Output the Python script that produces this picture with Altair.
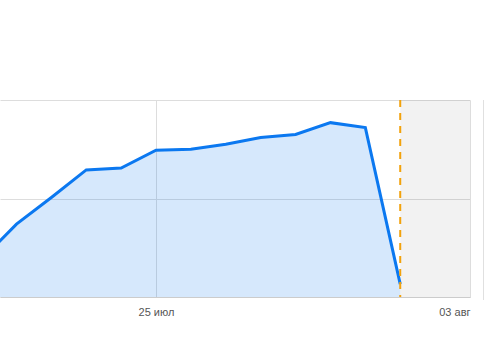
import altair as alt
import pandas as pd

dates = ["2024-07-20", "2024-07-21", "2024-07-22", "2024-07-23", "2024-07-24",
         "2024-07-25", "2024-07-26", "2024-07-27", "2024-07-28", "2024-07-29",
         "2024-07-30", "2024-07-31", "2024-08-01"]
values = [38, 74, 101, 129, 131, 149, 150, 155, 162, 165, 177, 172, 13]

tick_dates = [(2024, 7, 25), (2024, 8, 3)]
month_names = ["янв", "фев", "мар", "апр", "май", "июн", "июл", "авг", "сен", "окт", "ноя", "дек"]
forecast_start = "2024-08-01"
forecast_end = "2024-08-03"

df = pd.DataFrame({"date": dates, "value": values})
band = pd.DataFrame({"start": [forecast_start], "end": [forecast_end]})

W, H = 470, 197
months_js = "[" + ",".join("'" + m + "'" for m in month_names) + "]"

xscale = alt.Scale(
    type="utc",
    domain=[alt.DateTime(year=2024, month=7, date=20, hours=12, minutes=40, utc=True),
            alt.DateTime(year=2024, month=8, date=3, utc=True)],
)
xaxis = alt.Axis(
    title=None,
    values=[alt.DateTime(year=y, month=m, date=d, utc=True) for (y, m, d) in tick_dates],
    labelExpr="utcFormat(datum.value, '%d') + ' ' + " + months_js + "[utcmonth(datum.value)]",
    labelFlush=True,
    labelFont="Liberation Sans",
    labelFontSize=11,
    labelColor="#555555",
    labelPadding=9,
    ticks=False,
    domainColor="#cccccc",
    gridColor="#dddddd",
)
yscale = alt.Scale(domain=[0, 200])
yaxis = alt.Axis(title=None, values=[0, 100, 200], labels=False, ticks=False,
                 domain=False, gridColor="#dddddd")

base = alt.Chart(df).encode(
    x=alt.X("date:T", scale=xscale, axis=xaxis),
    y=alt.Y("value:Q", scale=yscale, axis=yaxis),
)

area = base.mark_area(color="#0b78f0", fillOpacity=0.17, clip=True)
line = base.mark_line(color="#0b78f0", strokeWidth=3, clip=True)

shade = alt.Chart(band).mark_rect(color="#000000", opacity=0.05).encode(
    x=alt.X("start:T", scale=xscale),
    x2="end:T",
    y=alt.value(0),
    y2=alt.value(H),
)
vline = alt.Chart(band).mark_rule(color="#f2a20c", strokeWidth=2, strokeDash=[7, 6]).encode(
    x=alt.X("start:T", scale=xscale),
    y=alt.value(0),
    y2=alt.value(H),
)
edge = alt.Chart(band).mark_rule(color="#e0e0e0", strokeWidth=1).encode(
    x=alt.value(W + 13.5),
    y=alt.value(0),
    y2=alt.value(H + 3),
)

chart = alt.layer(shade, area, line, vline, edge).properties(
    width=W, height=H,
    autosize=alt.AutoSizeParams(type="none"),
    padding={"left": 0, "top": 100, "right": 14, "bottom": 51},
).configure_view(stroke=None)

chart.save("out.html", embed_options={"renderer": "svg", "actions": False})
